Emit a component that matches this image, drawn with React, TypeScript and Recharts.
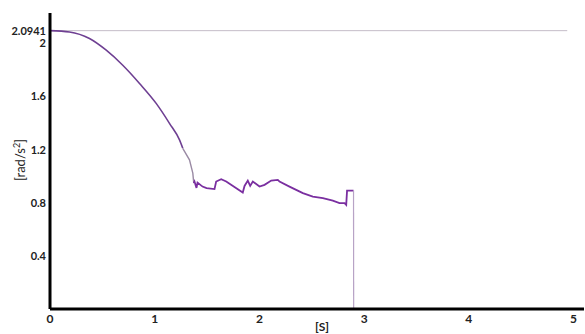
import React from "react"
import { LineChart, Line, XAxis, YAxis, ReferenceLine, Customized } from "recharts"

// time [s] and angular acceleration [rad/s^2]
const times = [
  0, 0.186, 0.377, 0.537, 0.695, 0.855, 1.014, 1.141, 1.237, 1.268,
]
const accel = [
  2.0941, 2.084, 2.035, 1.947, 1.834, 1.697, 1.547, 1.397, 1.272, 1.209,
]

const fadeTimes = [1.268, 1.332, 1.364, 1.373]
const fadeAccel = [1.209, 1.122, 1.022, 0.947]

const wobbleTimes = [
  1.373, 1.38, 1.399, 1.409, 1.457, 1.495, 1.571, 1.587, 1.635, 1.683,
  1.841, 1.858, 1.889, 1.912, 1.937, 2.001, 2.049, 2.113, 2.176, 2.192,
  2.287, 2.415, 2.51, 2.606, 2.701, 2.765, 2.813, 2.829, 2.837, 2.899,
]
const wobbleAccel = [
  0.947, 0.959, 0.911, 0.951, 0.921, 0.909, 0.902, 0.959, 0.977, 0.959,
  0.876, 0.926, 0.966, 0.926, 0.959, 0.921, 0.934, 0.966, 0.971, 0.959,
  0.921, 0.872, 0.846, 0.834, 0.816, 0.797, 0.797, 0.784, 0.891, 0.891,
]

const dropTimes = [2.899, 2.9]
const dropAccel = [0.891, 0]

const xTicks = [0, 1, 2, 3, 4, 5]
const yTicks = [0.4, 0.8, 1.2, 1.6, 2, 2.0941]
const refValue = 2.0941

const toRows = (t: number[], v: number[]) => t.map((x, i) => ({ t: x, v: v[i] }))

const FONT = "Lato, 'Liberation Sans', sans-serif"

const YTick = (props: any) => {
  const { x, y, payload } = props
  return (
    <text x={x} y={y} dy={4} textAnchor="end" fontSize={11} fontWeight={700} fill="#222" fontFamily={FONT}>
      {payload.value === refValue ? "2.0941" : String(payload.value)}
    </text>
  )
}

const Labels = () => (
  <g fontFamily={FONT} fill="#222">
    <text x={0} y={0} transform="translate(25,160) rotate(-90)" textAnchor="middle" fontSize={13}>
      [rad/s<tspan dy={-5} fontSize={9}>2</tspan>
      <tspan dy={5}>]</tspan>
    </text>
    <text x={322} y={331} textAnchor="middle" fontSize={12} fontWeight={700}>
      [S]
    </text>
  </g>
)

export default function App() {
  return (
    <div style={{ position: "absolute", left: 0, top: 0, background: "#fff" }}>
      <LineChart width={585} height={334} margin={{ top: 13, right: 1, bottom: 5, left: 0 }}>
        <XAxis
          type="number"
          dataKey="t"
          domain={[0, 5.1]}
          ticks={xTicks}
          allowDataOverflow
          height={20}
          axisLine={{ stroke: "#000", strokeWidth: 3 }}
          tickLine={false}
          tickSize={3}
          tickMargin={2}
          tick={{ fontSize: 12, fontWeight: 700, fill: "#222", fontFamily: FONT }}
        />
        <YAxis
          type="number"
          dataKey="v"
          domain={[0, 2.227]}
          ticks={yTicks}
          allowDataOverflow
          width={50}
          axisLine={{ stroke: "#000", strokeWidth: 3 }}
          tickLine={false}
          tickSize={2}
          tickMargin={2}
          tick={<YTick />}
          interval={0}
        />
        <ReferenceLine
          segment={[{ x: 0, y: refValue }, { x: 4.94, y: refValue }]}
          stroke="#c4bcc8"
          strokeWidth={1}
        />
        <Line data={toRows(times, accel)} dataKey="v" type="monotone" stroke="#6e3f92" strokeWidth={1.6} dot={false} isAnimationActive={false} />
        <Line data={toRows(fadeTimes, fadeAccel)} dataKey="v" type="linear" stroke="#9a8aa4" strokeWidth={1.4} dot={false} isAnimationActive={false} />
        <Line data={toRows(wobbleTimes, wobbleAccel)} dataKey="v" type="linear" stroke="#7a2fa0" strokeWidth={1.8} dot={false} isAnimationActive={false} />
        <Line data={toRows(dropTimes, dropAccel)} dataKey="v" type="linear" stroke="#b8a3c6" strokeWidth={1.2} dot={false} isAnimationActive={false} />
        <Customized component={Labels} />
      </LineChart>
    </div>
  )
}
